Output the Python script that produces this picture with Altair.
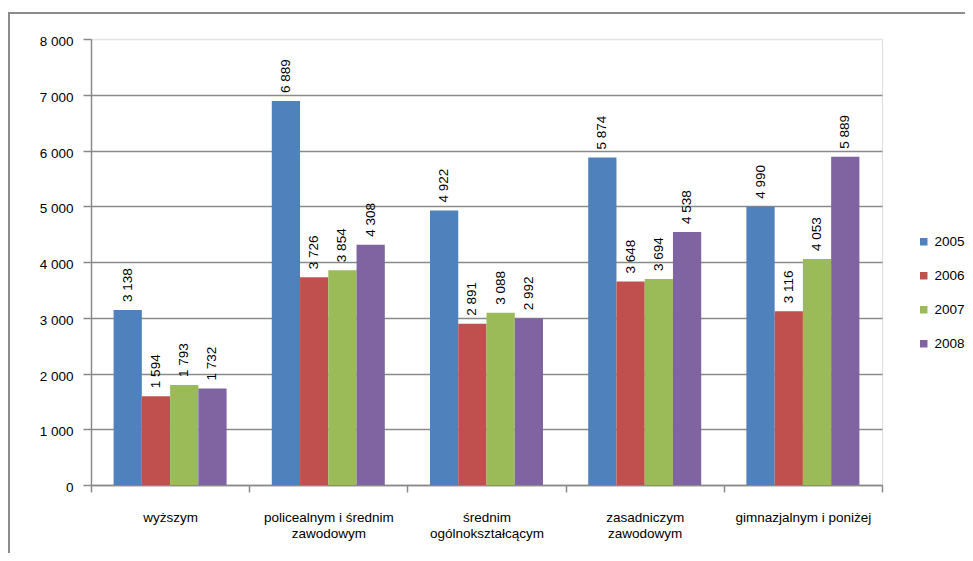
import altair as alt
import pandas as pd

TITLE = "w latach 2005-2008"
CATEGORIES = [
    "wyższym",
    "policealnym i średnim zawodowym",
    "średnim ogólnokształcącym",
    "zasadniczym zawodowym",
    "gimnazjalnym i poniżej",
]
CATEGORY_LABEL_LINES = [
    ["wyższym"],
    ["policealnym i średnim", "zawodowym"],
    ["średnim", "ogólnokształcącym"],
    ["zasadniczym", "zawodowym"],
    ["gimnazjalnym i poniżej"],
]
YEARS = ["2005", "2006", "2007", "2008"]
V2005 = [3138, 6889, 4922, 5874, 4990]
V2006 = [1594, 3726, 2891, 3648, 3116]
V2007 = [1793, 3854, 3088, 3694, 4053]
V2008 = [1732, 4308, 2992, 4538, 5889]
COLORS = ["#4F81BD", "#C0504D", "#9BBB59", "#8064A2"]
Y_TICKS = [0, 1000, 2000, 3000, 4000, 5000, 6000, 7000, 8000]

FONT = "Liberation Sans"
W, H = 791, 446

rows = []
for year, vals in zip(YEARS, [V2005, V2006, V2007, V2008]):
    for cat, v in zip(CATEGORIES, vals):
        rows.append({"category": cat, "year": year, "value": v,
                     "label": f"{v:,}".replace(",", " ")})
df = pd.DataFrame(rows)

def js_str(s):
    return "'" + s.replace("'", "\\'") + "'"

lines_expr = "[" + ",".join("[" + ",".join(js_str(l) for l in ls) + "]" for ls in CATEGORY_LABEL_LINES) + "]"
cats_expr = "[" + ",".join(js_str(c) for c in CATEGORIES) + "]"
label_expr = f"{lines_expr}[indexof({cats_expr}, datum.label)]"

x_enc = alt.X(
    "category:N", sort=CATEGORIES, title=None,
    scale=alt.Scale(paddingInner=0, paddingOuter=0),
    axis=alt.Axis(labelExpr=label_expr, labelAngle=0, tickBand="extent",
                  domainColor="#8a8a8a", domainWidth=1.5, tickColor="#8a8a8a",
                  tickWidth=1.5, tickSize=7, labelPadding=18, labelFont=FONT,
                  labelFontSize=13.5, labelColor="#000", labelLineHeight=16,
                  labelBaseline="top", grid=False),
)
xoff = alt.XOffset("year:N", sort=YEARS, scale=alt.Scale(paddingInner=0, paddingOuter=0.8))

y_enc = alt.Y(
    "value:Q", title=None,
    scale=alt.Scale(domain=[0, 8000], nice=False),
    axis=alt.Axis(values=Y_TICKS, labelExpr="replace(format(datum.value, ','), ',', ' ')",
                  grid=True,
                  gridColor=alt.condition("datum.value == 8000", alt.value("#e4e4e4"), alt.value("#8a8a8a")),
                  gridWidth=1.5, domainColor="#8a8a8a", domainWidth=1.5,
                  tickColor="#8a8a8a", tickWidth=1.5, tickSize=8, labelPadding=10,
                  labelFont=FONT, labelFontSize=13.5, labelColor="#000", labelBaseline="middle",
                  labelOffset=2.5),
)

base = alt.Chart(df).encode(x=x_enc, xOffset=xoff)

bars = base.mark_bar().encode(
    y=y_enc,
    color=alt.Color("year:N", sort=YEARS,
                    scale=alt.Scale(domain=YEARS, range=COLORS),
                    legend=alt.Legend(orient="none", legendX=826, legendY=196, title=None,
                                      symbolType="square", symbolSize=56, symbolStrokeWidth=0,
                                      labelFont=FONT, labelFontSize=13.5, labelColor="#000",
                                      rowPadding=19, padding=0, labelOffset=4)),
)

labels = base.mark_text(angle=270, align="left", baseline="middle", dx=8,
                        font=FONT, fontSize=13.5, color="#000").encode(
    y=alt.Y("value:Q"), text="label:N")

one = pd.DataFrame({"k": [0]})
frame_left = alt.Chart(one).mark_rule(color="#8c8c8c", strokeWidth=2).encode(
    x=alt.value(-82), y=alt.value(-26), y2=alt.value(H + 76))
frame_top = alt.Chart(one).mark_rule(color="#8c8c8c", strokeWidth=2).encode(
    x=alt.value(-83), x2=alt.value(W + 91), y=alt.value(-26))
title = alt.Chart(one).mark_text(font=FONT, fontSize=17, fontWeight="bold",
                                 baseline="alphabetic", align="center", color="#000").encode(
    x=alt.value(405), y=alt.value(-34), text=alt.value(TITLE))

chart = alt.layer(frame_left, frame_top, title, bars, labels).properties(
    width=W, height=H,
    autosize=alt.AutoSizeParams(type="none"),
    padding={"left": 83, "top": 31, "right": 83, "bottom": 68},
).configure_view(stroke=None).configure(background="white")

chart.save("out.html", embed_options={"renderer": "svg", "actions": False})
